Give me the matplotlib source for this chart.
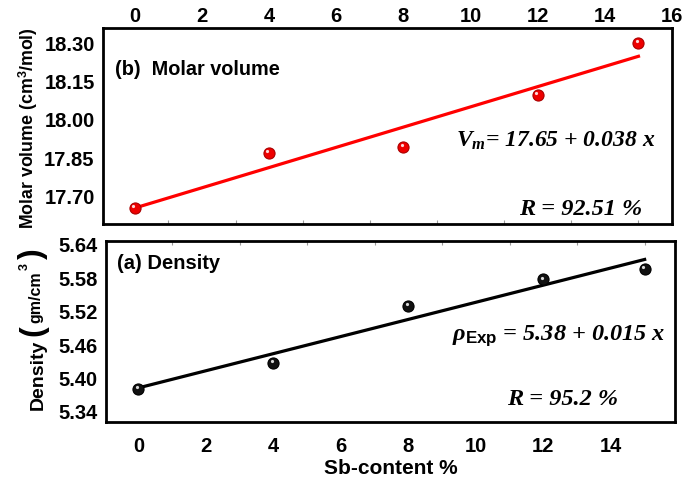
import numpy as np
import matplotlib
matplotlib.use("Agg")
import matplotlib.pyplot as plt
from matplotlib import transforms

# Data
sb_content = [0, 4, 8, 12, 15]
molar_volume = [17.653, 17.868, 17.891, 18.093, 18.297]
density = [5.380, 5.426, 5.529, 5.576, 5.595]

mv_yticks = [17.70, 17.85, 18.00, 18.15, 18.30]
mv_xticks = [0, 2, 4, 6, 8, 10, 12, 14, 16]
d_yticks = [5.34, 5.40, 5.46, 5.52, 5.58, 5.64]
d_xticks = [0, 2, 4, 6, 8, 10, 12, 14]

plt.rcParams['font.family'] = ['Liberation Sans', 'DejaVu Sans']
plt.rcParams['font.weight'] = 'bold'
plt.rcParams['mathtext.fontset'] = 'custom'
plt.rcParams['mathtext.bf'] = 'Liberation Sans:bold'
plt.rcParams['mathtext.rm'] = 'Liberation Sans:bold'
plt.rcParams['mathtext.it'] = 'Liberation Serif:italic:bold'
plt.rcParams['mathtext.sf'] = 'Liberation Sans:bold'

W, H = 699, 485
fig = plt.figure(figsize=(6.99, 4.85), dpi=100)
ax1 = fig.add_axes([0.1474, 0.5361, 0.8140, 0.4041])
ax2 = fig.add_axes([0.1516, 0.1278, 0.8141, 0.3732])

x = np.array(sb_content, dtype=float)


def fx(px):
    return px / W


def fy(py):
    return 1 - py / H


def sphere(ax, xs, ys, color, edge):
    ax.plot(xs, ys, 'o', ms=8, mfc=color, mec=edge, mew=0.8, zorder=4, clip_on=False)
    off = transforms.offset_copy(ax.transData, fig=fig, x=-1.3, y=1.3, units='points')
    ax.plot(xs, ys, 'o', ms=2.3, mfc='white', mec='none', alpha=0.85,
            transform=off, zorder=5, clip_on=False)


def style_ticks(ax):
    for lab in ax.get_xticklabels() + ax.get_yticklabels():
        lab.set_fontweight('bold')


serif_kw = dict(family='Liberation Serif', style='italic',
                fontweight='bold', math_fontfamily='custom',
                transform=fig.transFigure, ha='right', va='baseline')

# Top panel: molar volume
p1 = np.polyfit(x, molar_volume, 1)
ax1.plot(x, np.polyval(p1, x), color='#ff0000', lw=2.3, zorder=3)
sphere(ax1, x, molar_volume, '#ee0000', '#aa0000')
ax1.set_xlim(-0.95, 16)
ax1.set_ylim(17.59, 18.355)
ax1.set_xticks(mv_xticks)
ax1.set_yticks(mv_yticks)
ax1.set_yticklabels([f"{v:.2f}" for v in mv_yticks])
ax1.xaxis.tick_top()
ax1.tick_params(axis='x', which='major', length=0, labelsize=14.5, pad=2)
ax1.tick_params(axis='y', length=0, labelsize=14.5, pad=6)
ax1.set_xticks(np.arange(0, 16, 1), minor=True)
ax1.tick_params(axis='x', which='minor', bottom=True, top=False, direction='in',
                length=3, width=0.8, color='#999999')
style_ticks(ax1)
for s in ax1.spines.values():
    s.set_linewidth(2)
fig.text(fx(28), fy(128), r'Molar volume (cm$^\mathbf{3}$/mol)', rotation=90,
         fontsize=12.8, fontweight='bold', ha='center', va='center')
fig.text(fx(115), fy(70), '(b)  Molar volume', fontsize=14.3, fontweight='bold',
         ha='left', va='center')
fig.text(fx(655), fy(147), r'$V_m$= 17.65 + 0.038 x', fontsize=17, **serif_kw)
fig.text(fx(642), fy(215), 'R = 92.51 %', fontsize=17.5, **serif_kw)

# Bottom panel: density
p2 = np.polyfit(x, density, 1)
ax2.plot(x, np.polyval(p2, x), color='black', lw=2.3, zorder=3)
sphere(ax2, x, density, '#111111', '#000000')
ax2.set_xlim(-0.96, 15.9)
ax2.set_ylim(5.32, 5.645)
ax2.set_xticks(d_xticks)
ax2.set_yticks(d_yticks)
ax2.set_yticklabels([f"{v:.2f}" for v in d_yticks])
ax2.tick_params(axis='x', which='major', length=0, labelsize=14.5, pad=10)
ax2.tick_params(axis='y', length=0, labelsize=14.5, pad=6)
ax2.set_xticks(np.arange(0, 16, 1), minor=True)
ax2.tick_params(axis='x', which='minor', bottom=False, top=True, direction='in',
                length=3, width=0.8, color='#999999')
style_ticks(ax2)
for s in ax2.spines.values():
    s.set_linewidth(2)
ax2.set_xlabel('Sb-content %', fontsize=15, fontweight='bold', labelpad=2)

# Density label with large parentheses
fig.text(fx(38), fy(375), 'Density', rotation=90, fontsize=14, fontweight='bold',
         ha='center', va='center')
fig.text(fx(33), fy(331), '(', rotation=90, fontsize=23, fontweight='bold',
         ha='center', va='center')
fig.text(fx(36), fy(297), 'gm/cm', rotation=90, fontsize=11.5, fontweight='bold',
         ha='center', va='center')
fig.text(fx(25), fy(267), '3', rotation=90, fontsize=9, fontweight='bold',
         ha='center', va='center')
fig.text(fx(33), fy(254), ')', rotation=90, fontsize=23, fontweight='bold',
         ha='center', va='center')

fig.text(fx(117), fy(264), '(a) Density', fontsize=14.5, fontweight='bold',
         ha='left', va='center')
fig.text(fx(665), fy(340), r'$\rho_{\mathbf{Exp}}$ = 5.38 + 0.015 x', fontsize=17.5,
         **serif_kw)
fig.text(fx(618), fy(405), 'R = 95.2 %', fontsize=17.5, **serif_kw)

fig.savefig('out.png', dpi=100)
